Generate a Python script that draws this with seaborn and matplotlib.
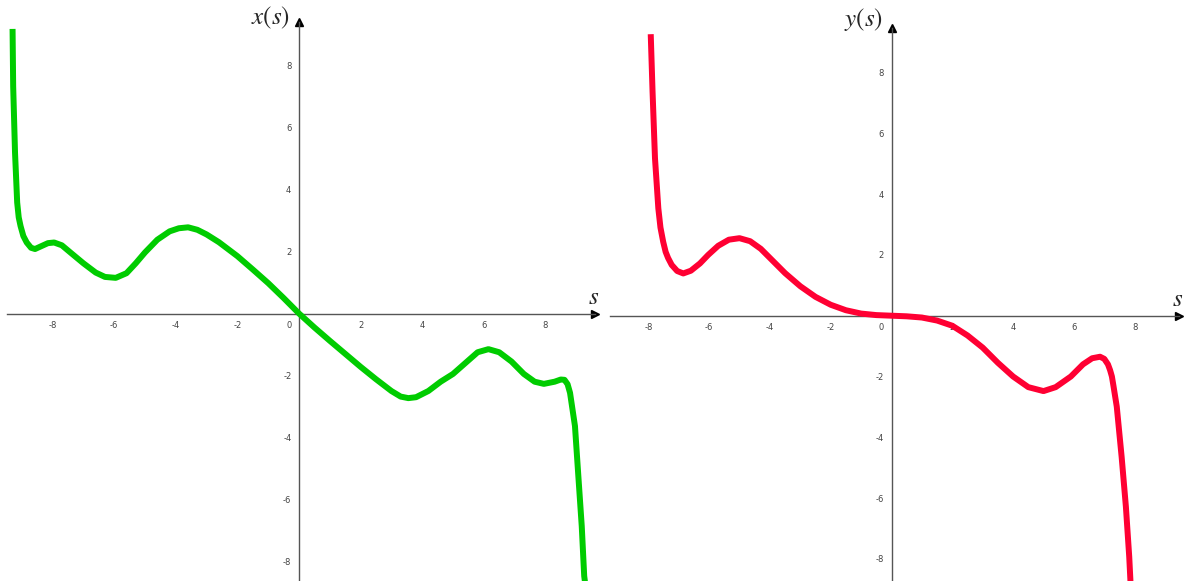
import numpy as np
import pandas as pd
import matplotlib.pyplot as plt
import seaborn as sns

sns.set_style('white')
plt.rcParams['mathtext.fontset'] = 'stix'

# x(s) curve, values
x_s = [-9.30, -9.28, -9.22, -9.15, -9.10, -9.04, -8.95, -8.84, -8.70, -8.57, -8.35, -8.15, -7.95,
       -7.70, -7.40, -7.00, -6.60, -6.30, -5.95, -5.60, -5.30, -5.00, -4.60, -4.20,
       -3.90, -3.60, -3.30, -3.00, -2.60, -2.00, -1.50, -1.00, -0.50, 0.00, 0.50,
       1.00, 1.50, 2.00, 2.50, 3.00, 3.30, 3.55, 3.80, 4.20, 4.60, 5.00, 5.40, 5.80,
       6.15, 6.50, 6.90, 7.30, 7.65, 7.95, 8.30, 8.50, 8.62, 8.72, 8.80, 8.96, 9.07, 9.18, 9.26, 9.29]
x_val = [9.18, 7.33, 5.19, 3.58, 3.10, 2.82, 2.50, 2.29, 2.12, 2.08, 2.18, 2.27, 2.29,
         2.20, 1.95, 1.62, 1.32, 1.18, 1.15, 1.30, 1.62, 1.97, 2.38, 2.65,
         2.75, 2.78, 2.70, 2.55, 2.30, 1.85, 1.42, 0.98, 0.50, 0.00, -0.45,
         -0.88, -1.30, -1.72, -2.12, -2.50, -2.68, -2.73, -2.70, -2.50, -2.20, -1.95, -1.60, -1.25,
         -1.15, -1.25, -1.55, -1.95, -2.20, -2.27, -2.20, -2.13, -2.14, -2.28, -2.56, -3.63, -5.25, -6.86, -8.47, -8.70]

# y(s) curve
y_s = [-7.92, -7.86, -7.78, -7.67, -7.60, -7.51, -7.43, -7.35, -7.23, -7.05, -6.85, -6.60, -6.30,
       -6.03, -5.70, -5.35, -5.00, -4.65, -4.30, -4.00, -3.50, -3.00, -2.50, -2.00,
       -1.50, -1.00, -0.50, 0.00, 0.50, 1.00, 1.50, 2.00, 2.50, 3.00, 3.50, 4.00,
       4.50, 5.00, 5.40, 5.90, 6.30, 6.60, 6.86, 7.00, 7.12, 7.19, 7.25, 7.30, 7.41, 7.57, 7.71, 7.82, 7.86]
y_val = [9.26, 7.37, 5.18, 3.53, 2.90, 2.43, 2.10, 1.90, 1.67, 1.47, 1.39, 1.48, 1.72,
         2.00, 2.30, 2.50, 2.55, 2.45, 2.20, 1.90, 1.40, 0.97, 0.62, 0.36,
         0.18, 0.07, 0.02, 0.00, -0.02, -0.06, -0.16, -0.33, -0.65, -1.05, -1.55, -2.00,
         -2.35, -2.48, -2.35, -2.00, -1.60, -1.40, -1.35, -1.42, -1.60, -1.79, -2.00, -2.30, -2.99, -4.64, -6.28, -7.93, -8.73]

ticks = [-8, -6, -4, -2, 2, 4, 6, 8]

fig = plt.figure(figsize=(11.87, 5.81), dpi=100)
W, H = 1187.0, 581.0


def make_panel(left, width, x0, y0, px_x, px_y, xb, yb, lbl_y, s, v, color, label):
    ax = fig.add_axes([left / W, 0, width / W, 1])
    ax.patch.set_alpha(0)
    # limits from pixel positions of the origin
    ax.set_xlim((left - x0) / px_x, (left + width - x0) / px_x)
    ax.set_ylim((y0 - H) / px_y, y0 / px_y)
    sns.lineplot(x=s, y=v, ax=ax, color=color, linewidth=4.3, sort=False,
                 solid_capstyle='butt', zorder=3)
    for side in ['top', 'right']:
        ax.spines[side].set_visible(False)
    for side in ['left', 'bottom']:
        ax.spines[side].set_position(('data', 0))
        ax.spines[side].set_color('#555555')
        ax.spines[side].set_linewidth(1.0)
    ax.spines['bottom'].set_bounds(xb[0], xb[1])
    ax.spines['left'].set_bounds(ax.get_ylim()[0], yb)
    ax.plot(xb[1], 0, marker='>', color='black', markersize=6, clip_on=False)
    ax.plot(0, yb, marker='^', color='black', markersize=6, clip_on=False)
    ax.set_xticks(ticks)
    ax.set_yticks(ticks)
    ax.set_xticklabels([str(t) for t in ticks])
    ax.set_yticklabels([str(t) for t in ticks])
    ax.tick_params(axis='both', labelsize=6, colors='#444444', length=2.5,
                   width=0.8, direction='out', pad=3)
    ax.text(-0.25, -0.25, '0', fontsize=6, color='#444444', ha='right', va='top')
    ax.text(-0.3, lbl_y, label, fontsize=18, ha='right', va='center')
    ax.text(xb[1] - 0.05, 0.15, r'$s$', fontsize=18, ha='center', va='bottom')
    ax.set_xlabel('')
    ax.set_ylabel('')
    return ax


make_panel(0, 600, 299.0, 313.5, 30.8, 31.0, (-9.48, 9.62), 9.40, 9.55,
           x_s, x_val, '#00CC00', r'$x(s)$')
make_panel(600, 587, 891.5, 315.7, 30.4, 30.4, (-9.26, 9.45), 9.46, 9.75,
           y_s, y_val, '#FF0033', r'$y(s)$')

fig.savefig('out.png', dpi=100)
